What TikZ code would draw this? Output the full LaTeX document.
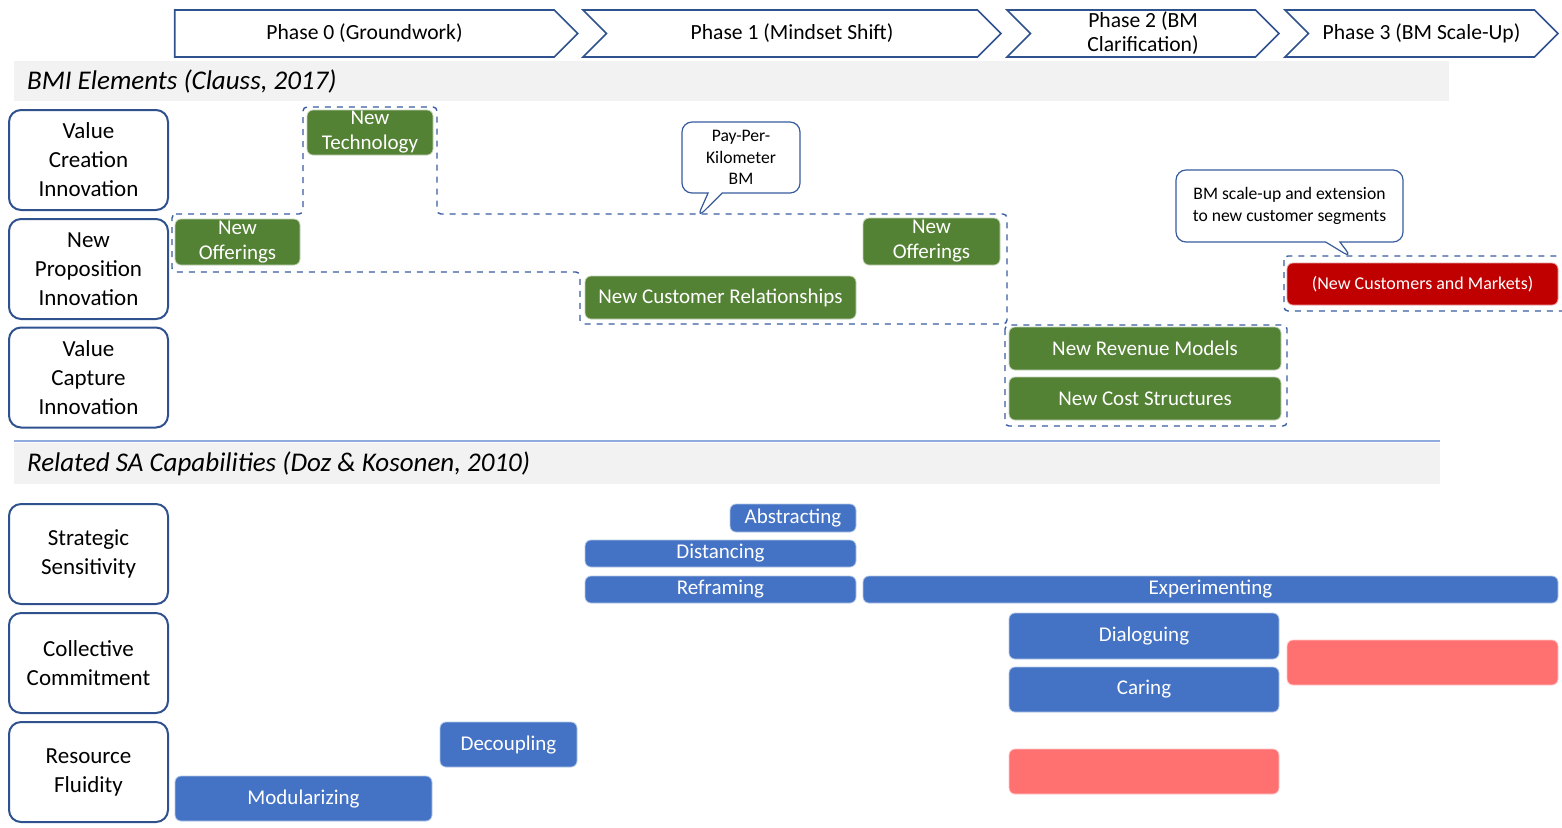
\documentclass[tikz,border=0pt]{standalone}
\usepackage{fontspec}
\setmainfont{Carlito}
\usetikzlibrary{shapes.symbols,shapes.callouts,positioning}
\definecolor{rowblue}{RGB}{47,82,143}
\definecolor{bmigreen}{RGB}{84,130,53}
\definecolor{sablue}{RGB}{68,114,196}
\definecolor{scalered}{RGB}{192,0,0}
\definecolor{gapred}{RGB}{255,113,113}
\definecolor{dashblue}{RGB}{59,92,160}
\definecolor{bargray}{RGB}{242,242,242}
\definecolor{lineblue}{RGB}{143,170,220}

\tikzset{
  phase/.style={signal, draw=rowblue, line width=0.8pt, fill=white, signal pointer angle=90,
    minimum height=23.5pt, inner sep=1pt, align=center, font=\fontsize{10.8}{12}\selectfont},
  rowlabel/.style={draw=rowblue, line width=1pt, rounded corners=6pt, fill=white,
    minimum width=79.5pt, minimum height=50pt, align=center, font=\fontsize{11.5}{14.5}\selectfont},
  greenbox/.style={fill=bmigreen, draw=bmigreen!35!white, rounded corners=3pt, text=white,
    inner sep=0pt, align=center, font=\fontsize{10.5}{12.5}\selectfont},
  redbox/.style={greenbox, fill=scalered, draw=scalered!40!white, font=\fontsize{9}{11}\selectfont},
  sabar/.style={greenbox, fill=sablue, draw=sablue!40!white},
  gapbox/.style={greenbox, fill=gapred, draw=gapred!40!white},
  grouping/.style={draw=dashblue, dashed, line width=0.7pt, rounded corners=2pt},
  speech/.style={rectangle callout, draw=sablue!80!black, line width=0.6pt, fill=white,
    rounded corners=5pt, align=center, inner sep=0pt, font=\fontsize{8.8}{10.8}\selectfont},
  heading/.style={anchor=west, font=\fontsize{13.5}{15}\selectfont\itshape}
}

\begin{document}
\begin{tikzpicture}[x=0.5pt, y=-0.5pt]
  \useasboundingbox (0,0) rectangle (1562,827);

  % phases
  \node[phase, signal to=east, minimum width=201.5pt] (ph0) at (364.5,33.5) {Phase 0 (Groundwork)};
  \node[phase, signal from=west, signal to=east, minimum width=209pt] (ph1) at (792,33.5) {Phase 1 (Mindset Shift)};
  \node[phase, signal from=west, signal to=east, minimum width=136pt] (ph2) at (1143,33.5) {Phase 2 (BM\\Clarification)};
  \node[phase, signal from=west, signal to=east, minimum width=136.5pt] (ph3) at (1421.5,33.5) {Phase 3 (BM Scale-Up)};

  % BMI elements
  \fill[bargray] (14,61) rectangle (1449,101);
  \node[heading] (bmi) at (20,81) {BMI Elements (Clauss, 2017)};

  \node[rowlabel] (vcre) at (88.5,160) {Value\\Creation\\Innovation};
  \node[rowlabel] (nprop) at (88.5,269) {New\\Proposition\\Innovation};
  \node[rowlabel] (vcap) at (88.5,377.5) {Value\\Capture\\Innovation};

  \draw[grouping] (172,214) -- (303,214) -- (303,107) -- (437,107) -- (437,214) -- (1007,214)
    -- (1007,324) -- (580,324) -- (580,272) -- (172,272) -- cycle;
  \draw[grouping] (1005,325) rectangle (1287,426);
  \draw[grouping] (1284,256) rectangle (1568,311);

  \node[greenbox, minimum width=63pt, minimum height=22.5pt] (tech) at (370,132.5) {New\\Technology};
  \node[greenbox, minimum width=62.5pt, minimum height=23pt] (offa) at (237.5,242) {New\\Offerings};
  \node[greenbox, minimum width=135.5pt, minimum height=21.5pt] (rel) at (720.5,297.5) {New Customer Relationships};
  \node[greenbox, minimum width=68.5pt, minimum height=23.5pt] (offb) at (931.5,241.5) {New\\Offerings};
  \node[greenbox, minimum width=136pt, minimum height=21.5pt] (rev) at (1145,348.5) {New Revenue Models};
  \node[greenbox, minimum width=136pt, minimum height=21.5pt] (cost) at (1145,398.5) {New Cost Structures};
  \node[redbox, minimum width=135.5pt, minimum height=21pt] (mkt) at (1422.5,284) {(New Customers and Markets)};

  \node[speech, minimum width=59pt, minimum height=35.5pt, callout absolute pointer={(697,218)}]
    (ppk) at (741,157.5) {Pay-Per-\\Kilometer\\BM};
  \node[speech, minimum width=113.5pt, minimum height=36pt, callout absolute pointer={(1352,258)}]
    (scale) at (1289.5,206) {BM scale-up and extension\\to new customer segments};

  % SA capabilities
  \draw[lineblue, line width=0.6pt] (14,441) -- (1440,441);
  \fill[bargray] (14,443) rectangle (1440,484);
  \node[heading] (sacap) at (20,463.5) {Related SA Capabilities (Doz \& Kosonen, 2010)};

  \node[rowlabel] (sens) at (88.5,554) {Strategic\\Sensitivity};
  \node[rowlabel] (comm) at (88.5,663) {Collective\\Commitment};
  \node[rowlabel] (fluid) at (88.5,772) {Resource\\Fluidity};

  \node[sabar, minimum width=63pt, minimum height=14pt] (abst) at (793,518) {Abstracting};
  \node[sabar, minimum width=135.5pt, minimum height=13.5pt] (dist) at (720.5,553.5) {Distancing};
  \node[sabar, minimum width=135.5pt, minimum height=13.5pt] (refr) at (720.5,589.5) {Reframing};
  \node[sabar, minimum width=347.5pt, minimum height=13.5pt] (expe) at (1210.5,589.5) {Experimenting};
  \node[sabar, minimum width=135pt, minimum height=23pt] (dial) at (1144,636) {Dialoguing};
  \node[sabar, minimum width=135pt, minimum height=22.5pt] (car) at (1144,689.5) {Caring};
  \node[sabar, minimum width=68.5pt, minimum height=22.5pt] (deco) at (508.5,744.5) {Decoupling};
  \node[sabar, minimum width=128.5pt, minimum height=22.5pt] (modu) at (303.5,798.5) {Modularizing};
  \node[gapbox, minimum width=135.5pt, minimum height=22.5pt] (gapa) at (1422.5,662.5) {};
  \node[gapbox, minimum width=135pt, minimum height=22.5pt] (gapb) at (1144,771.5) {};
\end{tikzpicture}
\end{document}
